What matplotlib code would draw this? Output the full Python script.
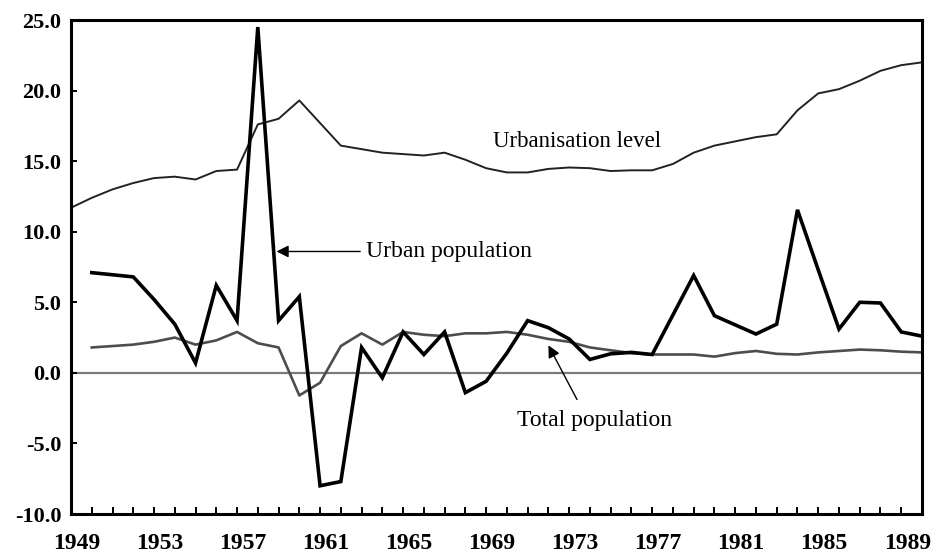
import matplotlib
matplotlib.use("Agg")
import matplotlib.pyplot as plt
import matplotlib.transforms as mtransforms
import numpy as np

# urbanisation level (%), 1949-1990
urb_years = list(range(1949, 1991))
urb_level = [11.7, 12.4, 13.0, 13.45, 13.8, 13.9, 13.7, 14.3, 14.4, 17.6,
             18.0, 19.3, 17.7, 16.1, 15.85, 15.6, 15.5, 15.4, 15.6, 15.1,
             14.5, 14.2, 14.2, 14.45, 14.55, 14.5, 14.3, 14.35, 14.35, 14.8,
             15.6, 16.1, 16.4, 16.7, 16.9, 18.6, 19.8, 20.1, 20.7, 21.4,
             21.8, 22.0]

# annual growth rates (%), 1950-1990
growth_years = list(range(1950, 1991))
urban_pop = [7.1, 6.95, 6.8, 5.2, 3.45, 0.7, 6.2, 3.7, 24.5, 3.7,
             5.4, -8.0, -7.7, 1.8, -0.35, 2.9, 1.3, 2.9, -1.4, -0.6,
             1.4, 3.7, 3.2, 2.4, 0.95, 1.35, 1.45, 1.3, 4.1, 6.9,
             4.05, 3.4, 2.75, 3.45, 11.55, 7.3, 3.1, 5.0, 4.95, 2.9,
             2.6]
total_pop = [1.8, 1.9, 2.0, 2.2, 2.5, 2.0, 2.3, 2.9, 2.1, 1.8,
             -1.6, -0.7, 1.9, 2.8, 2.0, 2.9, 2.7, 2.6, 2.8, 2.8,
             2.9, 2.7, 2.4, 2.2, 1.8, 1.6, 1.4, 1.3, 1.3, 1.3,
             1.15, 1.4, 1.55, 1.35, 1.3, 1.45, 1.55, 1.65, 1.6, 1.5,
             1.45]

label_years = list(range(1949, 1990, 4))
y_ticks = [-10, -5, 0, 5, 10, 15, 20, 25]

serif = ["Liberation Serif", "DejaVu Serif"]

fig = plt.figure(figsize=(9.33, 5.57), dpi=100)
ax = fig.add_axes([71 / 933, 1 - 514 / 557, (922 - 71) / 933, (514 - 20) / 557])

ax.axhline(0, color="#7a7a7a", lw=1.6, zorder=1)
ax.plot(urb_years, urb_level, color="#222222", lw=1.4, zorder=2)
ax.plot(growth_years, total_pop, color="#4d4d4d", lw=1.9, zorder=2)
ax.plot(growth_years, urban_pop, color="black", lw=2.6, zorder=3,
        solid_joinstyle="miter")

ax.set_xlim(1949, 1990)
ax.set_ylim(-10, 25)

ax.set_xticks(range(1949, 1991))
ax.set_xticklabels([str(y) if y in label_years else "" for y in range(1949, 1991)])
ax.set_yticks(y_ticks)
ax.set_yticklabels([f"{v:.1f}" for v in y_ticks])

ax.tick_params(axis="x", direction="in", length=5, width=1.4, pad=14,
               labelsize=17)
ax.tick_params(axis="y", direction="in", length=4, width=1.4, pad=7,
               labelsize=16)
for lab in ax.get_xticklabels() + ax.get_yticklabels():
    lab.set_fontfamily(serif)
    lab.set_fontweight("bold")

# labels sit slightly right of the year ticks in the original
shift = mtransforms.ScaledTranslation(6 / 100, 0, fig.dpi_scale_trans)
for lab in ax.get_xticklabels():
    lab.set_transform(lab.get_transform() + shift)

for side in ["left", "right", "top", "bottom"]:
    ax.spines[side].set_linewidth(2.2)

ax.text(1973.4, 16.4, "Urbanisation level", fontsize=16.5, family=serif,
        ha="center", va="center")

ax.annotate("Urban population", xy=(1958.9, 8.6), xytext=(1963.2, 8.6),
            fontsize=17, family=serif, va="center", ha="left",
            arrowprops=dict(arrowstyle="-|>", color="black", lw=1.0,
                            mutation_scale=18, shrinkA=2, shrinkB=0))

ax.annotate("Total population", xy=(1972.0, 1.95), xytext=(1970.5, -3.35),
            fontsize=17, family=serif, va="center", ha="left",
            arrowprops=dict(arrowstyle="-|>", color="black", lw=1.0,
                            mutation_scale=18, shrinkA=6, shrinkB=0,
                            relpos=(0.42, 1.0)))

fig.savefig("out.png", dpi=100)
